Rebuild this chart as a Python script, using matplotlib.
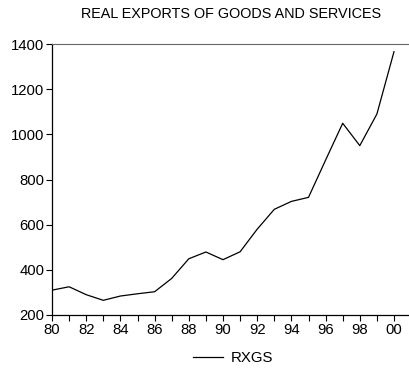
import matplotlib
matplotlib.use("Agg")
import matplotlib.pyplot as plt
from matplotlib.ticker import MultipleLocator, FuncFormatter

plt.rcParams['font.family'] = ['Liberation Sans', 'DejaVu Sans']

years = [80, 81, 82, 83, 84, 85, 86, 87, 88, 89, 90,
         91, 92, 93, 94, 95, 96, 97, 98, 99, 100]
rxgs = [310, 325, 290, 265, 284, 294, 303, 362, 449, 479, 445,
        480, 580, 668, 703, 721, 886, 1049, 950, 1090, 1366]

fig = plt.figure(figsize=(4.1, 3.8), dpi=100)
ax = fig.add_axes([52 / 410, 1 - 315 / 380, 1 - 52 / 410, (315 - 44) / 380])

ax.plot(years, rxgs, color='black', linewidth=0.9, label='RXGS')

ax.set_xlim(80, 80 + 358 / 17.1)
ax.set_ylim(200, 1400)
ax.xaxis.set_major_locator(MultipleLocator(2))
ax.xaxis.set_minor_locator(MultipleLocator(1))
ax.xaxis.set_major_formatter(FuncFormatter(lambda v, p: '%02d' % (int(round(v)) % 100)))
ax.yaxis.set_major_locator(MultipleLocator(200))

ax.spines['right'].set_visible(False)
ax.spines['top'].set_color('#666666')
for s in ['left', 'bottom']:
    ax.spines[s].set_color('black')
    ax.spines[s].set_linewidth(0.9)

ax.tick_params(axis='both', which='major', direction='out', length=4, width=0.8,
               labelsize=10.7, pad=1.5)
ax.tick_params(axis='x', which='minor', direction='out', length=4, width=0.8)

fig.text(231 / 410, 1 - 14 / 380, 'REAL EXPORTS OF GOODS AND SERVICES',
         ha='center', va='center', fontsize=10.4)

fig.legend(loc='center', bbox_to_anchor=(233 / 410, 1 - 358 / 380), frameon=False,
           fontsize=10.8, handlelength=2.0, handletextpad=0.5)

fig.savefig('out.png', dpi=100)
